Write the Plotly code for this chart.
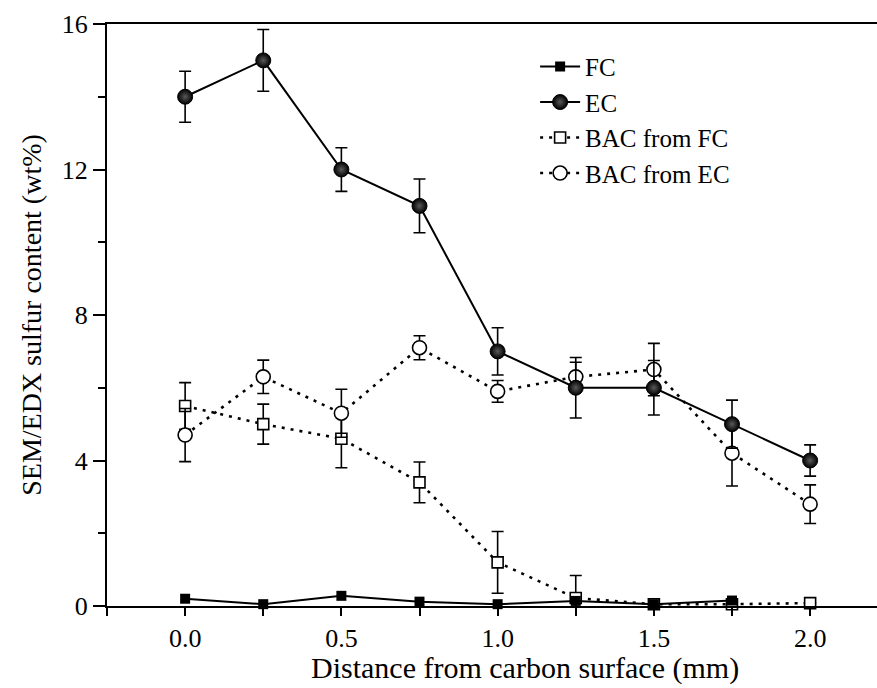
import plotly.graph_objects as go

# Sulfur content profiles measured by SEM/EDX across the carbon cross-section
distance_mm = [0.0, 0.25, 0.5, 0.75, 1.0, 1.25, 1.5, 1.75, 2.0]

fc_sulfur = [0.2, 0.05, 0.28, 0.12, 0.05, 0.14, 0.05, 0.15]
fc_distance = distance_mm[:8]

ec_sulfur = [14.0, 15.0, 12.0, 11.0, 7.0, 6.0, 6.0, 5.0, 4.0]
ec_err = [0.7, 0.85, 0.6, 0.74, 0.65, 0.83, 0.75, 0.66, 0.43]

bac_fc_sulfur = [5.5, 5.0, 4.6, 3.4, 1.2, 0.22, 0.05, 0.05, 0.08]
bac_fc_err = [0.64, 0.55, 0.8, 0.56, 0.85, 0.62, 0.0, 0.0, 0.0]

bac_ec_sulfur = [4.7, 6.3, 5.3, 7.1, 5.9, 6.3, 6.5, 4.2, 2.8]
bac_ec_err = [0.73, 0.46, 0.66, 0.33, 0.3, 0.4, 0.72, 0.9, 0.53]

x_title = "Distance from carbon surface (mm)"
y_title = "SEM/EDX sulfur content (wt%)"

FONT = "Liberation Serif, Times New Roman, serif"
dotted = "3px,6px"


def err(values):
    return dict(type="data", array=values, visible=True, color="black",
                thickness=1.6, width=6)


fig = go.Figure()

fig.add_trace(go.Scatter(
    x=distance_mm, y=bac_fc_sulfur, name="BAC from FC", legendrank=3,
    mode="lines+markers", cliponaxis=False,
    line=dict(color="black", width=2.6, dash=dotted),
    marker=dict(symbol="square", size=11, color="white",
                line=dict(color="black", width=1.6)),
    error_y=err(bac_fc_err),
))

fig.add_trace(go.Scatter(
    x=distance_mm, y=bac_ec_sulfur, name="BAC from EC", legendrank=4,
    mode="lines+markers", cliponaxis=False,
    line=dict(color="black", width=2.6, dash=dotted),
    marker=dict(symbol="circle", size=14, color="white",
                line=dict(color="black", width=1.6)),
    error_y=err(bac_ec_err),
))

fig.add_trace(go.Scatter(
    x=fc_distance, y=fc_sulfur, name="FC", legendrank=1,
    mode="lines+markers", cliponaxis=False,
    line=dict(color="black", width=2),
    marker=dict(symbol="square", size=10, color="black",
                line=dict(color="black", width=0)),
))

fig.add_trace(go.Scatter(
    x=distance_mm, y=ec_sulfur, name="EC", legendrank=2,
    mode="lines+markers", cliponaxis=False,
    line=dict(color="black", width=2),
    marker=dict(symbol="circle", size=15, color="black",
                gradient=dict(type="radial", color="#5a5a5a"),
                line=dict(color="black", width=1)),
    error_y=err(ec_err),
))

fig.update_layout(
    width=877, height=688,
    margin=dict(l=107, r=0, t=24, b=82),
    paper_bgcolor="white", plot_bgcolor="white",
    font=dict(family=FONT, color="black", size=26),
    showlegend=True,
    legend=dict(x=0.556, y=0.966, xanchor="left", yanchor="top",
                bgcolor="rgba(0,0,0,0)", borderwidth=0,
                font=dict(family=FONT, size=25, color="black"),
                tracegroupgap=0, itemwidth=40),
    xaxis=dict(
        range=[-0.25, 2.214], showgrid=False, zeroline=False,
        showline=True, linecolor="black", linewidth=2, mirror=True,
        ticks="outside", ticklen=8, tickwidth=2, tickcolor="black",
        tickmode="linear", tick0=0, dtick=0.5, tickformat=".1f",
        tickfont=dict(family=FONT, size=26),
        minor=dict(ticks="outside", ticklen=8, tickwidth=2,
                   tickcolor="black", dtick=0.25, tick0=0),
    ),
    yaxis=dict(
        range=[0, 16], showgrid=False, zeroline=False,
        showline=True, linecolor="black", linewidth=2,
        ticks="outside", ticklen=12, tickwidth=2, tickcolor="black",
        tickmode="linear", tick0=0, dtick=4,
        tickfont=dict(family=FONT, size=26),
        minor=dict(ticks="outside", ticklen=7, tickwidth=2,
                   tickcolor="black", dtick=2, tick0=0),
        title=dict(text=y_title, font=dict(family=FONT, size=28),
                   standoff=12),
    ),
    annotations=[dict(
        text=x_title, xref="paper", yref="paper",
        x=(525 - 107) / 770, y=-(668 - 606) / 582,
        xanchor="center", yanchor="middle", showarrow=False,
        font=dict(family=FONT, size=30, color="black"),
    )],
)

fig.write_html("out.html")
